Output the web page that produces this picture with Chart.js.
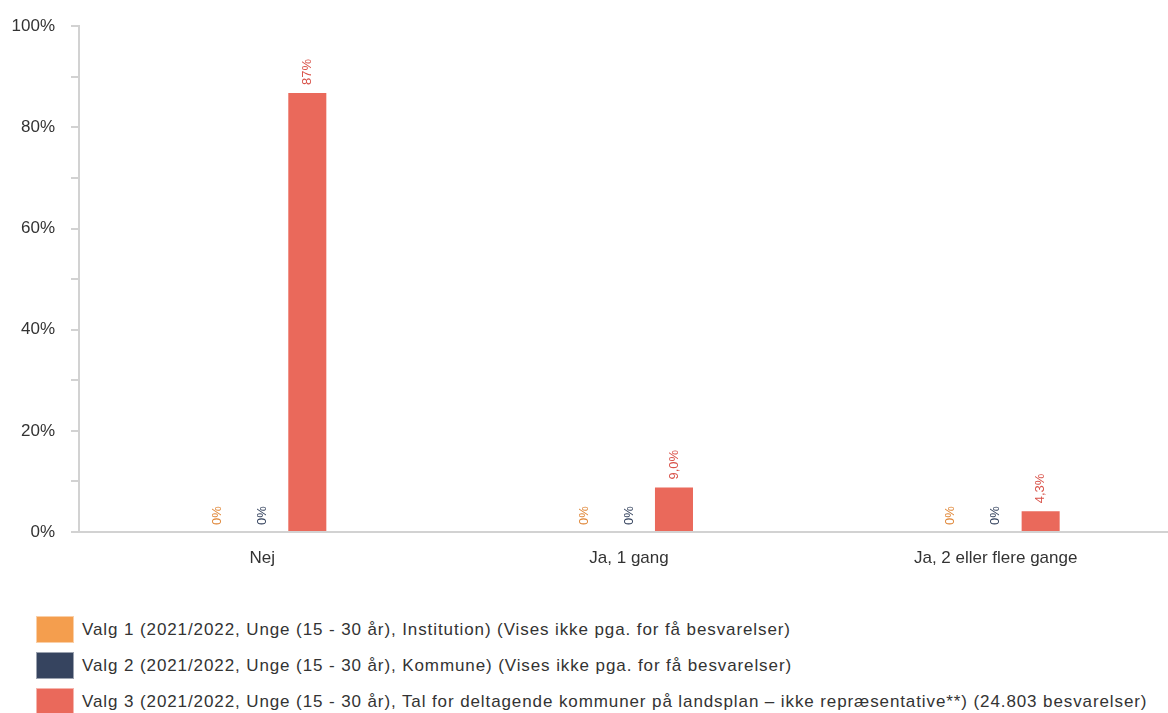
<!DOCTYPE html>
<html>
<head>
<meta charset="utf-8">
<script src="https://cdn.jsdelivr.net/npm/chart.js@4"></script>
<style>
  html, body { margin: 0; padding: 0; background: #fff; overflow: hidden; }
  #wrap { position: relative; width: 1168px; height: 713px; overflow: hidden; }
  #box { position: absolute; left: 0; top: 0; width: 1190px; height: 580px; }
  #legend { position: absolute; left: 36px; top: 616px; font-family: 'Liberation Sans', Arial, sans-serif; font-size: 17px; letter-spacing: 0.9px; color: #333; }
  .row { display: flex; align-items: center; height: 27px; margin-bottom: 9px; white-space: nowrap; }
  .sw { width: 38px; height: 27px; margin-right: 8px; box-sizing: border-box; border: 1px solid rgba(255,255,255,0.5); }
</style>
</head>
<body>
<div id="wrap">
  <div id="box"><canvas id="chart"></canvas></div>
  <div id="legend"></div>
</div>
<script>
// ── Data ──────────────────────────────────────────────────────────
const categories = ['Nej', 'Ja, 1 gang', 'Ja, 2 eller flere gange'];
const valg1 = [0, 0, 0];
const valg2 = [0, 0, 0];
const valg3 = [87, 9.0, 4.3];
const valg1Labels = ['0%', '0%', '0%'];
const valg2Labels = ['0%', '0%', '0%'];
const valg3Labels = ['87%', '9,0%', '4,3%'];
const seriesNames = [
    'Valg 1 (2021/2022, Unge (15 - 30 år), Institution) (Vises ikke pga. for få besvarelser)',
    'Valg 2 (2021/2022, Unge (15 - 30 år), Kommune) (Vises ikke pga. for få besvarelser)',
    'Valg 3 (2021/2022, Unge (15 - 30 år), Tal for deltagende kommuner på landsplan – ikke repræsentative**) (24.803 besvarelser)'
];
const yTicks = [0, 20, 40, 60, 80, 100];

const FILL = ['#F49E4E', '#36445F', '#EA695B'];
const TEXT = ['#E0883A', '#36445F', '#D9534A'];
const FONT = "'Liberation Sans', Arial, sans-serif";

// ── Rotated value labels ──────────────────────────────────────────
const valueLabels = {
    id: 'valueLabels',
    afterDatasetsDraw(chart) {
        const ctx = chart.ctx;
        chart.data.datasets.forEach((ds, i) => {
            const meta = chart.getDatasetMeta(i);
            meta.data.forEach((bar, j) => {
                ctx.save();
                ctx.translate(bar.x, bar.y - 7);
                ctx.rotate(-Math.PI / 2);
                ctx.font = '13px ' + FONT;
                ctx.fillStyle = TEXT[i];
                ctx.textAlign = 'left';
                ctx.textBaseline = 'middle';
                ctx.fillText(ds.valueLabels[j], 0, 0);
                ctx.restore();
            });
        });
    }
};

const datasets = [valg1, valg2, valg3].map((d, i) => ({
    label: seriesNames[i],
    data: d,
    valueLabels: [valg1Labels, valg2Labels, valg3Labels][i],
    backgroundColor: FILL[i],
    borderColor: 'rgba(255,255,255,0.35)',
    borderWidth: 1,
    categoryPercentage: 0.368,
    barPercentage: 0.89,
}));

new Chart(document.getElementById('chart'), {
    type: 'bar',
    data: { labels: categories, datasets },
    options: {
        responsive: true,
        maintainAspectRatio: false,
        animation: false,
        layout: { padding: { top: 25, right: 11, left: 0, bottom: 0 } },
        plugins: { legend: { display: false }, tooltip: { enabled: false } },
        scales: {
            x: {
                grid: { display: false },
                border: { display: true, color: '#d2d2d2', width: 2 },
                ticks: { color: '#333', font: { family: FONT, size: 17 }, padding: 8 },
                afterFit: s => { s.height = 48; }
            },
            y: {
                min: 0, max: 100,
                grid: { drawOnChartArea: false, drawTicks: true, tickLength: 8, color: '#d2d2d2', lineWidth: 2 },
                border: { display: true, color: '#d2d2d2', width: 2 },
                ticks: {
                    stepSize: 10,
                    autoSkip: false,
                    padding: 16,
                    color: '#333',
                    font: { family: FONT, size: 17 },
                    callback: v => yTicks.includes(v) ? v + '%' : ''
                },
                afterFit: s => { s.width = 79; }
            }
        }
    },
    plugins: [valueLabels]
});

// ── HTML legend ───────────────────────────────────────────────────
const legend = document.getElementById('legend');
seriesNames.forEach((name, i) => {
    const row = document.createElement('div');
    row.className = 'row';
    row.innerHTML = '<div class="sw" style="background:' + FILL[i] + '"></div><span>' + name + '</span>';
    legend.appendChild(row);
});
</script>
</body>
</html>
